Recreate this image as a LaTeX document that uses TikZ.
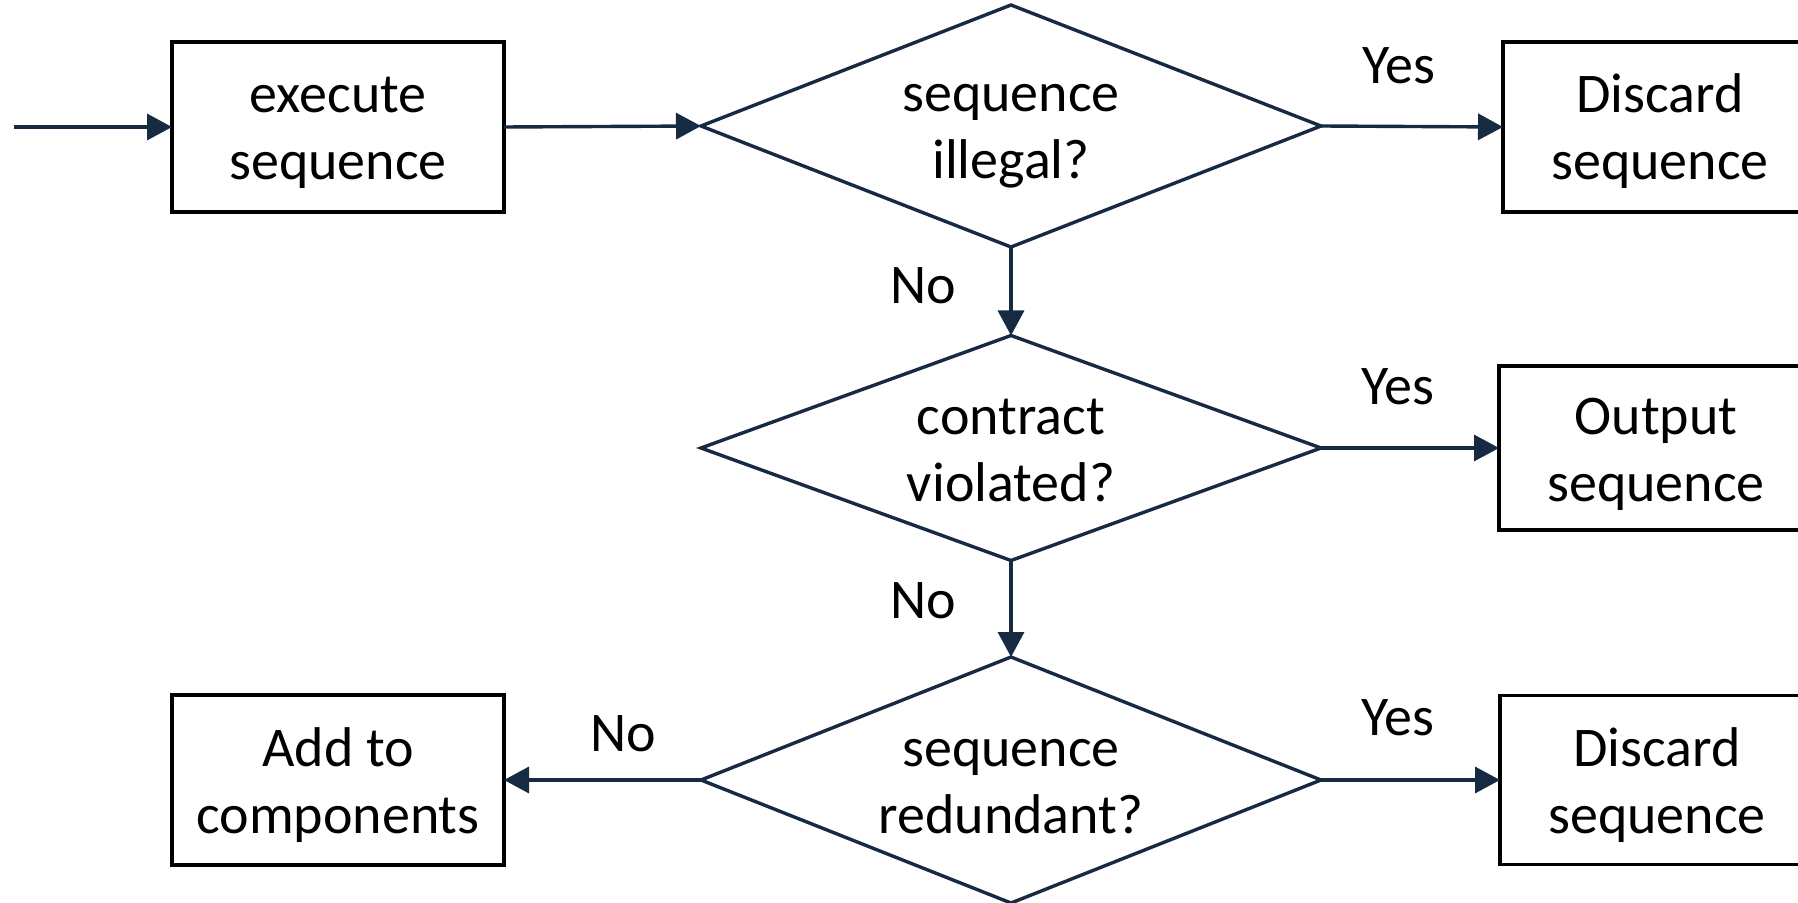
\documentclass[tikz,border=0pt]{standalone}
\usepackage{fontspec}
\setmainfont{Carlito}
\usetikzlibrary{shapes.geometric,arrows.meta}
\definecolor{navy}{RGB}{22,42,66}
\newcommand{\bigfont}{\fontsize{28}{33.5}\selectfont}
\begin{document}
\begin{tikzpicture}[x=0.5pt,y=-0.5pt,
  box/.style={draw=black, line width=1.7pt, minimum width=166pt, minimum height=85pt,
    inner sep=0pt, outer sep=0pt, align=center, font=\bigfont, text height=53pt, text depth=0pt},
  rbox/.style={box, minimum width=157pt},
  dec/.style={diamond, aspect=2.56, draw=navy, line width=1.7pt, minimum width=310pt,
    inner sep=0pt, outer sep=0pt, align=center, font=\bigfont, text height=53pt, text depth=0pt},
  arr/.style={draw=navy, line width=1.7pt, -{Triangle[length=12.5pt,width=13pt]}},
  lbl/.style={anchor=base, inner sep=0pt, font=\bigfont}]
\useasboundingbox (0,0) rectangle (1798,903);
\clip (0,0) rectangle (1798,903);
\fill[white] (0,0) rectangle (1798,903);

\coordinate (start) at (14,127);
\node[box] (exec) at (338,127) {execute\\sequence};
\node[dec, minimum height=121pt] (d1) at (1011,126) {sequence\\illegal?};
\node[rbox] (disc1) at (1660,127) {Discard\\sequence};
\node[dec, minimum height=112.5pt] (d2) at (1011,448) {contract\\violated?};
\node[rbox, minimum height=82pt] (out) at (1656,448) {Output\\sequence};
\node[dec, minimum height=123pt] (d3) at (1011,780) {sequence\\redundant?};
\node[rbox, minimum height=84.5pt] (disc3) at (1657,780) {Discard\\sequence};
\node[box] (add) at (338,780) {Add to\\components};

\draw[arr] (start) -- (exec.west);
\draw[arr] (exec.east) -- (d1.west);
\draw[arr] (d1.east) -- (disc1.west);
\draw[arr] (d1.south) -- (d2.north);
\draw[arr] (d2.east) -- (out.west);
\draw[arr] (d2.south) -- (d3.north);
\draw[arr] (d3.east) -- (disc3.west);
\draw[arr] (d3.west) -- (add.east);

\node[lbl] (y1) at (1399,84) {Yes};
\node[lbl] (y2) at (1398,405) {Yes};
\node[lbl] (y3) at (1398,735) {Yes};
\node[lbl] (n1) at (923,304) {No};
\node[lbl] (n2) at (923,618) {No};
\node[lbl] (n3) at (623,751) {No};
\end{tikzpicture}
\end{document}
